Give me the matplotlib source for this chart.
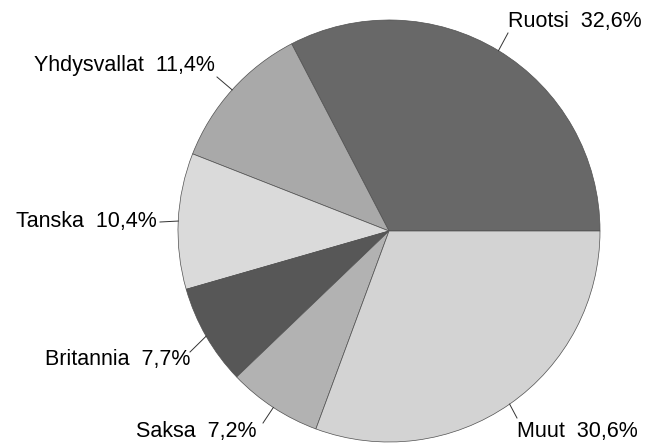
import matplotlib
matplotlib.use("Agg")
import matplotlib.pyplot as plt
import numpy as np

plt.rcParams['font.family'] = ['Liberation Sans', 'DejaVu Sans']

labels = ["Ruotsi", "Yhdysvallat", "Tanska", "Britannia", "Saksa", "Muut"]
shares = [32.6, 11.4, 10.4, 7.7, 7.2, 30.6]
value_text = ["32,6%", "11,4%", "10,4%", "7,7%", "7,2%", "30,6%"]
colors = ["#686868", "#a9a9a9", "#dadada", "#575757", "#b2b2b2", "#d3d3d3"]

# label anchor positions (pixels from top-left) and alignment
text_pos = [(508, 22), (215, 65), (157, 222), (190, 360), (257, 431), (517, 431)]
text_ha = ["left", "right", "right", "right", "right", "left"]
# where the leader line meets the text
leader_end = [(508, 33), (217, 77), (160, 222), (190, 352), (263, 423), (517, 418)]

W, H = 649, 445
cx, cy, r = 389, 231, 211

fig = plt.figure(figsize=(W / 100, H / 100), dpi=100)
ax = fig.add_axes([0, 0, 1, 1])

wedges, _ = ax.pie(shares, colors=colors, startangle=0, counterclock=True,
                   center=(cx, H - cy), radius=r, frame=True,
                   wedgeprops=dict(edgecolor="#505050", linewidth=0.5))
ax.set_xlim(0, W)
ax.set_ylim(0, H)
ax.set_aspect('equal')
ax.axis('off')

for w, name, val, pos, ha, le in zip(wedges, labels, value_text, text_pos, text_ha, leader_end):
    mid = np.deg2rad((w.theta1 + w.theta2) / 2)
    px = cx + r * np.cos(mid)
    py = (H - cy) + r * np.sin(mid)
    ax.plot([px, le[0]], [py, H - le[1]], color="#333333", lw=0.7)
    ax.text(pos[0], H - pos[1], f"{name}  {val}", ha=ha, va="center",
            fontsize=15.5, color="black")

fig.savefig("out.png", dpi=100)
